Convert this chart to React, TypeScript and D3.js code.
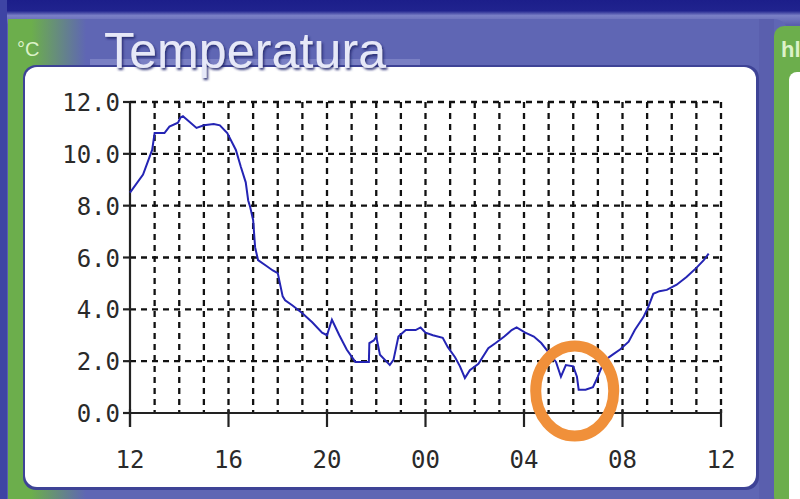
import React, { useRef, useEffect } from 'react';
import * as d3 from 'd3';

// hours after 12:00 (0 = 12, 24 = 12 next day)
const hours = [
  0, 0.53, 0.9, 1.0, 1.4, 1.6, 1.95, 2.05, 2.15, 2.4, 2.7, 3.0, 3.4, 3.65, 3.95, 4.3, 4.5, 4.7, 4.8, 4.88,
  5.0, 5.08, 5.2, 5.5, 5.8, 6.0, 6.2, 6.3, 6.6, 7.0, 7.4, 7.8, 8.0, 8.2, 8.5, 8.8, 9.15, 9.4, 9.7, 9.72,
  9.9, 10.0, 10.15, 10.4, 10.55, 10.7, 10.9, 11.2, 11.6, 11.8, 12.0, 12.3, 12.7, 12.9, 13.2, 13.4, 13.6,
  13.8, 14.15, 14.55, 14.85, 15.2, 15.5, 15.7, 16.05, 16.4, 16.7, 16.95, 17.3, 17.5, 17.7, 18.0, 18.15,
  18.22, 18.5, 18.8, 19.0, 19.1, 19.3, 19.6, 19.9, 20.25, 20.5, 20.85, 21.05, 21.25, 21.5, 21.8, 22.2,
  22.6, 23.0, 23.3, 23.5,
];
const temps = [
  8.5, 9.2, 10.15, 10.8, 10.8, 11.05, 11.2, 11.4, 11.45, 11.25, 11.0, 11.1, 11.15, 11.1, 10.8, 10.15, 9.5,
  8.9, 8.2, 7.95, 7.45, 6.4, 5.9, 5.7, 5.5, 5.4, 4.5, 4.35, 4.15, 3.85, 3.5, 3.1, 3.0, 3.6, 3.0, 2.45, 1.97,
  1.97, 1.97, 2.7, 2.8, 2.95, 2.25, 2.0, 1.85, 2.05, 2.95, 3.2, 3.2, 3.3, 3.1, 3.0, 2.9, 2.55, 2.15, 1.8,
  1.35, 1.65, 1.9, 2.5, 2.7, 2.95, 3.2, 3.3, 3.1, 2.95, 2.7, 2.4, 1.97, 1.4, 1.85, 1.8, 1.4, 0.9, 0.9, 1.0,
  1.4, 1.65, 2.05, 2.25, 2.45, 2.75, 3.2, 3.7, 4.1, 4.6, 4.7, 4.75, 4.95, 5.25, 5.6, 5.9, 6.15,
];
const xTickLabels = ['12', '16', '20', '00', '04', '08', '12'];
const yTicks = [0, 2, 4, 6, 8, 10, 12];

const W = 800;
const H = 499;
const plot = { left: 130, right: 721, top: 102, bottom: 413 };

const App = () => {
  const ref = useRef(null);

  useEffect(() => {
    const svg = d3.select(ref.current);
    svg.selectAll('*').remove();

    const defs = svg.append('defs');
    const hdr = defs.append('linearGradient').attr('id', 'hdr').attr('x1', 0).attr('x2', 1).attr('y1', 0).attr('y2', 0);
    hdr.append('stop').attr('offset', '0%').attr('stop-color', '#6cae4c');
    hdr.append('stop').attr('offset', '3%').attr('stop-color', '#6cae4c');
    hdr.append('stop').attr('offset', '10%').attr('stop-color', '#5f66b4');
    hdr.append('stop').attr('offset', '100%').attr('stop-color', '#5f66b4');
    const top = defs.append('linearGradient').attr('id', 'top').attr('x1', 0).attr('x2', 0).attr('y1', 0).attr('y2', 1);
    top.append('stop').attr('offset', '0%').attr('stop-color', '#1c1e8a');
    top.append('stop').attr('offset', '45%').attr('stop-color', '#20238e');
    top.append('stop').attr('offset', '65%').attr('stop-color', '#7a80c6');
    top.append('stop').attr('offset', '100%').attr('stop-color', '#5d62b0');
    const shadow = defs.append('filter').attr('id', 'ts').attr('x', '-10%').attr('y', '-20%').attr('width', '120%').attr('height', '150%');
    shadow.append('feDropShadow').attr('dx', 1.5).attr('dy', 2).attr('stdDeviation', 1.2).attr('flood-color', '#23266e').attr('flood-opacity', 0.9);

    // frame
    svg.append('rect').attr('width', W).attr('height', H).attr('fill', '#5a5fae');
    svg.append('rect').attr('width', W).attr('height', 24).attr('fill', 'url(#top)');
    svg.append('rect').attr('x', 0).attr('width', 7).attr('height', H).attr('fill', '#3e44a4');
    svg.append('rect').attr('x', 8).attr('y', 19).attr('width', 780).attr('height', 520).attr('rx', 14).attr('fill', 'url(#hdr)');
    svg.append('rect').attr('x', 8).attr('y', 19).attr('width', 17).attr('height', 520).attr('fill', '#6cae4c');
    svg.append('rect').attr('x', 90).attr('y', 59).attr('width', 330).attr('height', 6).attr('fill', '#aeb2e2').attr('opacity', 0.35);
    svg.append('rect').attr('x', 23).attr('y', 65).attr('width', 736).attr('height', 425).attr('rx', 13).attr('fill', '#3e4396');
    svg.append('rect').attr('x', 25).attr('y', 67).attr('width', 731).attr('height', 420).attr('rx', 12).attr('fill', '#ffffff');
    svg.append('rect').attr('x', 759).attr('y', 19).attr('width', 15).attr('height', 480).attr('fill', '#5a5fae');
    svg.append('rect').attr('x', 774).attr('y', 26).attr('width', 40).attr('height', 480).attr('rx', 10).attr('fill', '#6cae4c');
    svg.append('rect').attr('x', 789).attr('y', 72).attr('width', 30).attr('height', 440).attr('rx', 8).attr('fill', '#ffffff');

    svg.append('text').attr('x', 17).attr('y', 56).attr('font-family', 'Liberation Sans, Arial, sans-serif')
      .attr('font-size', 20).attr('fill', '#dcf2c8').text('°C');
    svg.append('text').attr('x', 781).attr('y', 57).attr('font-family', 'Liberation Sans, Arial, sans-serif')
      .attr('font-weight', 'bold').attr('font-size', 22).attr('fill', '#dcf2c8').text('hl');
    svg.append('text').attr('x', 104).attr('y', 68).attr('font-family', 'Liberation Sans, Arial, sans-serif')
      .attr('font-size', 50).attr('textLength', 282).attr('fill', '#e6e8f8').attr('filter', 'url(#ts)').text('Temperatura');

    // scales
    const x = d3.scaleLinear().domain([0, 24]).range([plot.left, plot.right]);
    const y = d3.scaleLinear().domain([0, 12]).range([plot.bottom, plot.top]);

    const g = svg.append('g');
    // grid
    g.selectAll('.vg').data(d3.range(1, 25)).enter().append('line')
      .attr('x1', (d) => x(d)).attr('x2', (d) => x(d)).attr('y1', y(12)).attr('y2', y(0))
      .attr('stroke', '#111').attr('stroke-width', 2.3).attr('stroke-dasharray', '6,5');
    g.selectAll('.hg').data(yTicks.slice(1)).enter().append('line')
      .attr('x1', x(0)).attr('x2', x(24)).attr('y1', (d) => y(d)).attr('y2', (d) => y(d))
      .attr('stroke', '#111').attr('stroke-width', 2.3).attr('stroke-dasharray', '6,5');

    // axes
    g.append('line').attr('x1', x(0)).attr('x2', x(0)).attr('y1', y(12)).attr('y2', y(0) + 14)
      .attr('stroke', '#222').attr('stroke-width', 2.2);
    g.append('line').attr('x1', x(0)).attr('x2', x(24)).attr('y1', y(0)).attr('y2', y(0))
      .attr('stroke', '#222').attr('stroke-width', 2.2);
    g.selectAll('.yt').data(yTicks).enter().append('line')
      .attr('x1', x(0) - 7).attr('x2', x(0)).attr('y1', (d) => y(d)).attr('y2', (d) => y(d))
      .attr('stroke', '#222').attr('stroke-width', 2.2);
    g.selectAll('.xt').data(xTickLabels).enter().append('line')
      .attr('x1', (d, i) => x(i * 4)).attr('x2', (d, i) => x(i * 4)).attr('y1', y(0) - 4).attr('y2', y(0) + 14)
      .attr('stroke', '#222').attr('stroke-width', 2.2);

    g.selectAll('.yl').data(yTicks).enter().append('text')
      .attr('x', x(0) - 10).attr('y', (d) => y(d) + 9).attr('text-anchor', 'end')
      .attr('font-family', 'DejaVu Sans Mono, monospace').attr('font-size', 24).attr('fill', '#2a2a2a')
      .text((d) => d3.format('.1f')(d));
    g.selectAll('.xl').data(xTickLabels).enter().append('text')
      .attr('x', (d, i) => x(i * 4)).attr('y', y(0) + 55).attr('text-anchor', 'middle')
      .attr('font-family', 'DejaVu Sans Mono, monospace').attr('font-size', 24).attr('fill', '#2a2a2a')
      .text((d) => d);

    // temperature line
    const line = d3.line<number>().x((d, i) => x(hours[i])).y((d) => y(d));
    g.append('path').datum(temps).attr('d', line).attr('fill', 'none')
      .attr('stroke', '#2424b4').attr('stroke-width', 2);

    // highlight ring
    g.append('ellipse').attr('cx', x(18.06)).attr('cy', y(0.85)).attr('rx', 39).attr('ry', 45)
      .attr('fill', 'none').attr('stroke', '#f0903a').attr('stroke-width', 11);
  }, []);

  return (
    <div style={{ position: 'absolute', left: 0, top: 0 }}>
      <svg ref={ref} width={W} height={H} style={{ display: 'block' }} />
    </div>
  );
};

export default App;
